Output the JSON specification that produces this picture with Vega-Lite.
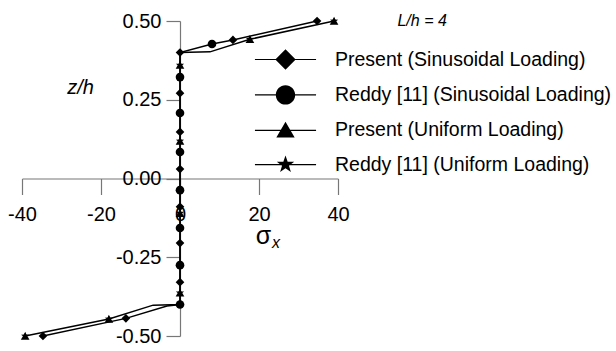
{
  "$schema": "https://vega.github.io/schema/vega-lite/v6.json",
  "width": 316,
  "height": 315,
  "autosize": {"type": "none"},
  "padding": {"left": 22, "top": 21, "right": 278, "bottom": 15},
  "config": {"view": {"stroke": null}, "font": "Liberation Sans"},
  "datasets": {
    "curves": [
      {"loading": "Sinusoidal", "s": -34.7, "z": -0.5},
      {"loading": "Sinusoidal", "s": -13.7, "z": -0.444},
      {"loading": "Sinusoidal", "s": -3.3, "z": -0.405},
      {"loading": "Sinusoidal", "s": 0, "z": -0.4},
      {"loading": "Sinusoidal", "s": 0, "z": 0.4},
      {"loading": "Sinusoidal", "s": 8.1, "z": 0.427},
      {"loading": "Sinusoidal", "s": 13.4, "z": 0.44},
      {"loading": "Sinusoidal", "s": 34.7, "z": 0.5},
      {"loading": "Uniform", "s": -39.2, "z": -0.5},
      {"loading": "Uniform", "s": -18, "z": -0.446},
      {"loading": "Uniform", "s": -6.8, "z": -0.402},
      {"loading": "Uniform", "s": 0, "z": -0.4},
      {"loading": "Uniform", "s": 0, "z": 0.4},
      {"loading": "Uniform", "s": 7.6, "z": 0.402},
      {"loading": "Uniform", "s": 17.7, "z": 0.442},
      {"loading": "Uniform", "s": 39, "z": 0.5}
    ],
    "markers": [
      {"series": "Present (Sinusoidal Loading)", "s": 34.7, "z": 0.5},
      {"series": "Present (Sinusoidal Loading)", "s": 13.4, "z": 0.44},
      {"series": "Present (Sinusoidal Loading)", "s": 0, "z": 0.4},
      {"series": "Present (Sinusoidal Loading)", "s": 0, "z": 0.271},
      {"series": "Present (Sinusoidal Loading)", "s": 0, "z": 0.148},
      {"series": "Present (Sinusoidal Loading)", "s": 0, "z": 0.03},
      {"series": "Present (Sinusoidal Loading)", "s": 0, "z": -0.09},
      {"series": "Present (Sinusoidal Loading)", "s": 0, "z": -0.205},
      {"series": "Present (Sinusoidal Loading)", "s": 0, "z": -0.329},
      {"series": "Present (Sinusoidal Loading)", "s": -13.7, "z": -0.444},
      {"series": "Present (Sinusoidal Loading)", "s": -34.7, "z": -0.5},
      {"series": "Reddy [11] (Sinusoidal Loading)", "s": 8.1, "z": 0.427},
      {"series": "Reddy [11] (Sinusoidal Loading)", "s": 0, "z": 0.322},
      {"series": "Reddy [11] (Sinusoidal Loading)", "s": 0, "z": 0.208},
      {"series": "Reddy [11] (Sinusoidal Loading)", "s": 0, "z": 0.084},
      {"series": "Reddy [11] (Sinusoidal Loading)", "s": 0, "z": -0.037},
      {"series": "Reddy [11] (Sinusoidal Loading)", "s": 0, "z": -0.157},
      {"series": "Reddy [11] (Sinusoidal Loading)", "s": 0, "z": -0.275},
      {"series": "Reddy [11] (Sinusoidal Loading)", "s": 0, "z": -0.4},
      {"series": "Present (Uniform Loading)", "s": 39, "z": 0.5},
      {"series": "Present (Uniform Loading)", "s": 17.7, "z": 0.442},
      {"series": "Present (Uniform Loading)", "s": 0, "z": 0.36},
      {"series": "Present (Uniform Loading)", "s": 0, "z": 0.119},
      {"series": "Present (Uniform Loading)", "s": 0, "z": -0.11},
      {"series": "Present (Uniform Loading)", "s": 0, "z": -0.363},
      {"series": "Present (Uniform Loading)", "s": -18, "z": -0.446},
      {"series": "Present (Uniform Loading)", "s": -39.2, "z": -0.5},
      {"series": "Reddy [11] (Uniform Loading)", "s": 39, "z": 0.5},
      {"series": "Reddy [11] (Uniform Loading)", "s": 17.7, "z": 0.442},
      {"series": "Reddy [11] (Uniform Loading)", "s": 0, "z": 0.36},
      {"series": "Reddy [11] (Uniform Loading)", "s": 0, "z": 0.119},
      {"series": "Reddy [11] (Uniform Loading)", "s": 0, "z": -0.11},
      {"series": "Reddy [11] (Uniform Loading)", "s": 0, "z": -0.363},
      {"series": "Reddy [11] (Uniform Loading)", "s": -18, "z": -0.446},
      {"series": "Reddy [11] (Uniform Loading)", "s": -39.2, "z": -0.5}
    ]
  },
  "layer": [
    {
      "data": {"name": "curves"},
      "mark": {"type": "line", "color": "black", "strokeWidth": 1.5},
      "encoding": {
        "x": {
          "field": "s", "type": "quantitative",
          "scale": {"domain": [-40, 40], "nice": false, "zero": false},
          "axis": {
            "orient": "bottom", "offset": -157.5,
            "values": [-40, -30, -20, -10, 0, 10, 20, 30, 40],
            "labelExpr": "datum.value % 20 === 0 ? replace(format(datum.value, 'd'), '\u2212', '-') : ''",
            "tickSize": {"condition": {"test": "datum.value % 20 === 0", "value": 16}, "value": 8},
            "labelPadding": 10, "labelFontSize": 20, "labelColor": "black", "labelFont": "Liberation Sans",
            "labelFlush": false, "labelOverlap": false,
            "domainColor": "#777", "tickColor": "#777", "domainWidth": 1.2, "tickWidth": 1.2,
            "grid": false, "title": null
          }
        },
        "y": {
          "field": "z", "type": "quantitative",
          "scale": {"domain": [-0.5, 0.5], "nice": false, "zero": false},
          "axis": {
            "orient": "left", "offset": -158,
            "values": [-0.5, -0.25, 0, 0.25, 0.5],
            "labelExpr": "replace(format(datum.value, '.2f'), '\u2212', '-')",
            "tickSize": 14, "labelPadding": 5, "labelFontSize": 20, "labelColor": "black", "labelFont": "Liberation Sans",
            "labelFlush": false, "labelOverlap": false, "labelBaseline": "middle",
            "domainColor": "#777", "tickColor": "#777", "domainWidth": 1.2, "tickWidth": 1.2,
            "grid": false,
            "title": "z/h", "titleAngle": 0, "titleFontStyle": "italic", "titleFontWeight": "normal",
            "titleFontSize": 20, "titleFont": "Liberation Sans", "titleColor": "black",
            "titleX": -100, "titleY": 66, "titleAlign": "center", "titleBaseline": "middle"
          }
        },
        "detail": {"field": "loading", "type": "nominal"},
        "order": {"field": "z", "type": "quantitative"}
      }
    },
    {
      "data": {"name": "markers"},
      "mark": {"type": "point", "filled": true, "color": "black", "size": 75, "opacity": 1},
      "encoding": {
        "x": {"field": "s", "type": "quantitative"},
        "y": {"field": "z", "type": "quantitative"},
        "shape": {
          "field": "series", "type": "nominal",
          "scale": {
            "domain": ["Present (Sinusoidal Loading)", "Reddy [11] (Sinusoidal Loading)", "Present (Uniform Loading)", "Reddy [11] (Uniform Loading)"],
            "range": ["diamond", "circle", "triangle-up", "M0,-1L0.235,-0.324L0.951,-0.309L0.38,0.124L0.588,0.809L0,0.4L-0.588,0.809L-0.38,0.124L-0.951,-0.309L-0.235,-0.324Z"]
          },
          "legend": null
        }
      }
    },
    {
      "data": {"name": "markers"},
      "mark": {"type": "point", "filled": true, "color": "black", "opacity": 0},
      "encoding": {
        "x": {"field": "s", "type": "quantitative"},
        "y": {"field": "z", "type": "quantitative"},
        "shape": {
          "field": "series", "type": "nominal",
          "scale": {
            "domain": ["Present (Sinusoidal Loading)", "Reddy [11] (Sinusoidal Loading)", "Present (Uniform Loading)", "Reddy [11] (Uniform Loading)"],
            "range": [
              "M-3,-0.06H3V0.06H-3ZM0,-1L1,0L0,1L-1,0Z",
              "M-3,-0.06H3V0.06H-3ZM-0.95,0A0.95,0.95,0,1,1,0.95,0A0.95,0.95,0,1,1,-0.95,0Z",
              "M-3,-0.06H3V0.06H-3ZM0,-0.85L0.9,0.7L-0.9,0.7Z",
              "M-3,-0.06H3V0.06H-3ZM0,-0.9L0.212,-0.292L0.856,-0.278L0.342,0.112L0.529,0.728L0,0.36L-0.529,0.728L-0.342,0.112L-0.856,-0.278L-0.212,-0.292Z"
            ]
          },
          "legend": {
            "orient": "none", "legendX": 253, "legendY": 28, "title": null,
            "padding": 0, "symbolSize": 415, "symbolStrokeWidth": 0,
            "symbolFillColor": "black", "symbolOpacity": 1,
            "labelFontSize": 19.5, "labelFont": "Liberation Sans", "labelColor": "black",
            "labelOffset": 39, "rowPadding": 14.4, "labelLimit": 400
          }
        }
      }
    },
    {
      "data": {"values": [{"label": "L/h = 4"}]},
      "mark": {"type": "text", "fontStyle": "italic", "fontSize": 16, "align": "center", "baseline": "middle", "color": "black"},
      "encoding": {
        "text": {"field": "label"},
        "x": {"datum": 61.3, "type": "quantitative"},
        "y": {"datum": 0.5, "type": "quantitative"}
      }
    },
    {
      "data": {"values": [{"label": "σ"}]},
      "mark": {"type": "text", "fontSize": 25, "align": "left", "baseline": "alphabetic", "color": "black"},
      "encoding": {
        "text": {"field": "label"},
        "x": {"datum": 19.2, "type": "quantitative"},
        "y": {"datum": -0.207, "type": "quantitative"}
      }
    },
    {
      "data": {"values": [{"label": "x"}]},
      "mark": {"type": "text", "fontSize": 16, "fontStyle": "italic", "align": "left", "baseline": "alphabetic", "color": "black"},
      "encoding": {
        "text": {"field": "label"},
        "x": {"datum": 23.3, "type": "quantitative"},
        "y": {"datum": -0.222, "type": "quantitative"}
      }
    }
  ],
  "resolve": {"scale": {"shape": "independent"}}
}
